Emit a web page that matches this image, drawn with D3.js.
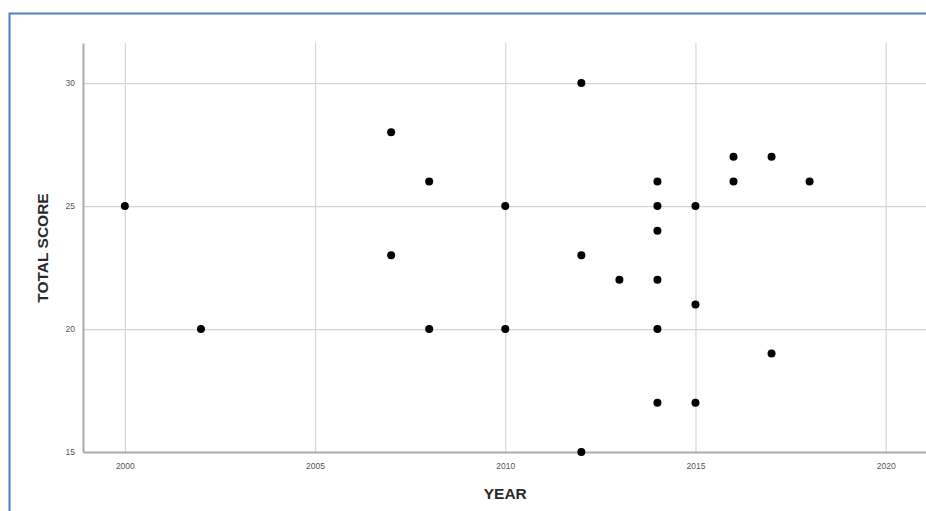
<!DOCTYPE html>
<html>
<head>
<meta charset="utf-8">
<script src="https://cdn.jsdelivr.net/npm/d3@7/dist/d3.min.js"></script>
<style>
  html, body { margin: 0; padding: 0; background: #fff; }
  svg { display: block; }
</style>
</head>
<body>
<svg id="chart" width="926" height="511"></svg>
<script>
// Publication year and total score of each study
const years  = [2000, 2002, 2007, 2007, 2008, 2008, 2010, 2010, 2012, 2012, 2012, 2013,
                2014, 2014, 2014, 2014, 2014, 2014, 2015, 2015, 2015, 2016, 2016, 2017, 2017, 2018];
const scores = [25, 20, 28, 23, 26, 20, 25, 20, 30, 23, 15, 22,
                26, 25, 24, 22, 20, 17, 25, 21, 17, 27, 26, 27, 19, 26];
const xTicks = [2000, 2005, 2010, 2015, 2020];
const yTicks = [15, 20, 25, 30];

const svg = d3.select("#chart");

// Frame around the figure
svg.append("path")
  .attr("d", "M9.5,511 V13.5 H926")
  .attr("fill", "none")
  .attr("stroke", "#4f7fc4")
  .attr("stroke-width", 2);

const plotLeft = 83, plotRight = 926, plotTop = 43, plotBottom = 452;

const x = d3.scaleLinear().domain([1998.9, 2021.06]).range([plotLeft, plotRight]);
const y = d3.scaleLinear().domain([15, 31.63]).range([plotBottom, plotTop]);

// Grid lines
svg.append("g")
  .attr("transform", `translate(0,${plotBottom})`)
  .call(d3.axisBottom(x).tickValues(xTicks).tickSize(-(plotBottom - plotTop)).tickFormat(""))
  .call(g => g.select(".domain").remove())
  .call(g => g.selectAll("line").attr("stroke", "#d4d4d4").attr("stroke-width", 1.2));

svg.append("g")
  .attr("transform", `translate(${plotLeft},0)`)
  .call(d3.axisLeft(y).tickValues(yTicks).tickSize(-(plotRight - plotLeft)).tickFormat(""))
  .call(g => g.select(".domain").remove())
  .call(g => g.selectAll("line").attr("stroke", "#d4d4d4").attr("stroke-width", 1.2));

// Axis lines with tick labels
const xAxis = svg.append("g")
  .attr("transform", `translate(0,${plotBottom})`)
  .call(d3.axisBottom(x).tickValues(xTicks).tickSize(0).tickPadding(11).tickFormat(d3.format("d")));
xAxis.select(".domain").attr("stroke", "#ababab").attr("stroke-width", 2);
xAxis.selectAll("text").attr("font-family", "Liberation Sans, Arial, sans-serif")
  .attr("font-size", 8.5).attr("fill", "#555");

const yAxis = svg.append("g")
  .attr("transform", `translate(${plotLeft},0)`)
  .call(d3.axisLeft(y).tickValues(yTicks).tickSize(0).tickPadding(8));
yAxis.select(".domain").attr("stroke", "#ababab").attr("stroke-width", 2);
yAxis.selectAll("text").attr("font-family", "Liberation Sans, Arial, sans-serif")
  .attr("font-size", 8.5).attr("fill", "#555");

// Axis titles
svg.append("text")
  .attr("x", x(2010))
  .attr("y", 499)
  .attr("text-anchor", "middle")
  .attr("font-family", "Liberation Sans, Arial, sans-serif")
  .attr("font-size", 15.5)
  .attr("font-weight", "bold")
  .attr("fill", "#2a2a2a")
  .text("YEAR");

svg.append("text")
  .attr("transform", "translate(48,248) rotate(-90)")
  .attr("text-anchor", "middle")
  .attr("font-family", "Liberation Sans, Arial, sans-serif")
  .attr("font-size", 15.5)
  .attr("font-weight", "bold")
  .attr("fill", "#2a2a2a")
  .text("TOTAL SCORE");

// Points
svg.append("g")
  .selectAll("circle")
  .data(years.map((yr, i) => ({ year: yr, score: scores[i] })))
  .join("circle")
  .attr("cx", d => x(d.year))
  .attr("cy", d => y(d.score))
  .attr("r", 4)
  .attr("fill", "#000");
</script>
</body>
</html>
